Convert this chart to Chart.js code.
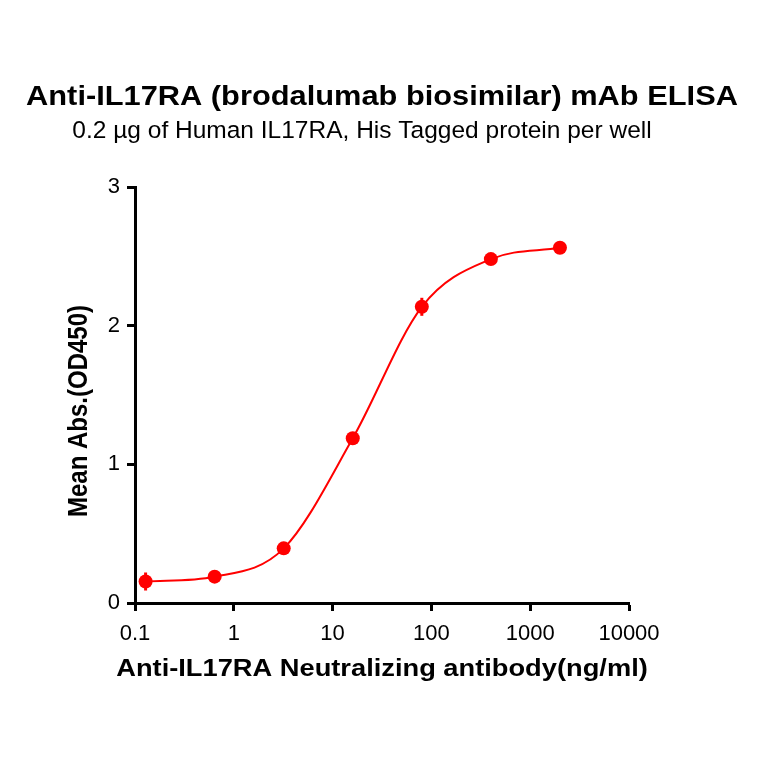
<!DOCTYPE html>
<html>
<head>
<meta charset="utf-8">
<script src="https://cdn.jsdelivr.net/npm/chart.js@4"></script>
<style>
  html, body { margin: 0; padding: 0; background: #fff; }
  #c { display: block; }
</style>
</head>
<body>
<canvas id="c" width="764" height="764"></canvas>
<script>
'use strict';
// ELISA dose-response, 5-fold dilution series (ng/ml) -> mean OD450
const CONC = [0.128, 0.64, 3.2, 16, 80, 400, 2000];
const OD = [0.155, 0.19, 0.394, 1.188, 2.136, 2.48, 2.562];
const ERR = [0.065, 0.02, 0.02, 0.02, 0.065, 0.02, 0.02];
const X_TICKS = [0.1, 1, 10, 100, 1000, 10000];
const Y_TICKS = [0, 1, 2, 3];

const TITLE = 'Anti-IL17RA (brodalumab biosimilar) mAb ELISA';
const SUBTITLE = '0.2 µg of Human IL17RA, His Tagged protein per well';
const X_TITLE = 'Anti-IL17RA Neutralizing antibody(ng/ml)';
const Y_TITLE = 'Mean Abs.(OD450)';

const RED = '#ff0000';
const FONT = '"Liberation Sans", Arial, sans-serif';

const errorBars = {
  id: 'errorBars',
  beforeDatasetsDraw(chart) {
    const { ctx, scales: { x, y } } = chart;
    ctx.save();
    ctx.strokeStyle = RED; ctx.lineWidth = 3;
    CONC.forEach((c, i) => {
      const px = x.getPixelForValue(c);
      ctx.beginPath();
      ctx.moveTo(px, y.getPixelForValue(OD[i] - ERR[i]));
      ctx.lineTo(px, y.getPixelForValue(OD[i] + ERR[i]));
      ctx.stroke();
    });
    ctx.restore();
  },
};

// bold text in the source renders wider than Liberation Sans Bold
function wideText(ctx, txt, x, y, font, k) {
  ctx.save();
  ctx.font = font;
  ctx.translate(x, y); ctx.scale(k, 1);
  ctx.fillText(txt, 0, 0);
  ctx.restore();
}

const texts = {
  id: 'texts',
  afterDraw(chart) {
    const ctx = chart.ctx;
    ctx.save();
    ctx.fillStyle = '#000';
    ctx.textAlign = 'center'; ctx.textBaseline = 'middle';
    wideText(ctx, TITLE, 382, 97, `bold 28px ${FONT}`, 1.1);
    wideText(ctx, SUBTITLE, 362, 131, `24.5px ${FONT}`, 1);
    wideText(ctx, X_TITLE, 382, 670, `bold 23.5px ${FONT}`, 1.16);
    ctx.font = `bold 24px ${FONT}`;
    ctx.translate(79, 411); ctx.rotate(-Math.PI / 2); ctx.scale(1, 1.16);
    ctx.fillText(Y_TITLE, 0, 0);
    ctx.restore();
  },
};

const axisCommon = {
  border: { display: true, color: '#000', width: 3 },
  grid: { display: true, drawOnChartArea: false, drawTicks: true,
    tickLength: 8, tickWidth: 3, tickColor: '#000', color: '#000' },
};

new Chart(document.getElementById('c').getContext('2d'), {
  type: 'line',
  data: {
    datasets: [{
      data: CONC.map((c, i) => ({ x: c, y: OD[i] })),
      borderColor: RED, borderWidth: 2, backgroundColor: RED,
      pointRadius: 7, pointBorderWidth: 0, pointBackgroundColor: RED,
      cubicInterpolationMode: 'monotone', fill: false,
    }],
  },
  options: {
    responsive: false, animation: false, devicePixelRatio: 1,
    layout: { padding: { top: 187, left: 0, right: 135, bottom: 0 } },
    plugins: { legend: { display: false }, tooltip: { enabled: false } },
    scales: {
      x: {
        ...axisCommon, type: 'logarithmic', min: 0.1, max: 10000,
        afterBuildTicks: (s) => { s.ticks = X_TICKS.map((v) => ({ value: v })); },
        afterFit: (s) => { s.height = 161; },
        ticks: { color: '#000', font: { family: FONT, size: 22 }, padding: 10,
          maxRotation: 0, autoSkip: false, callback: (v) => String(v) },
      },
      y: {
        ...axisCommon, min: 0, max: 3,
        afterBuildTicks: (s) => { s.ticks = Y_TICKS.map((v) => ({ value: v })); },
        afterFit: (s) => { s.width = 135; },
        ticks: { color: '#000', font: { family: FONT, size: 22 }, padding: 7,
          callback: (v) => String(v) },
      },
    },
  },
  plugins: [errorBars, texts],
});
</script>
</body>
</html>
